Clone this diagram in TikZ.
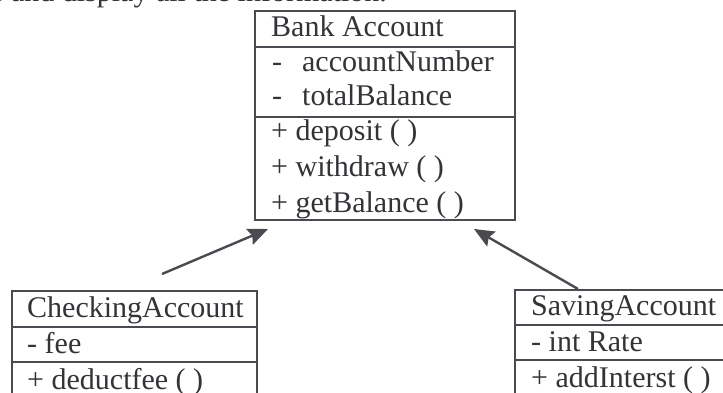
\documentclass[tikz,border=0pt]{standalone}
\usepackage{fontspec}
\setmainfont{Liberation Serif}
\usetikzlibrary{arrows.meta}
\definecolor{ink}{HTML}{333338}
\definecolor{rule}{HTML}{4A4A50}
\tikzset{
  txt/.style={anchor=base west, inner sep=0pt, text=ink, font=\fontsize{30}{36}\selectfont},
  boxline/.style={draw=rule, line width=1.3pt},
  inherit/.style={draw=rule, line width=2.4pt, -{Stealth[length=20pt,width=17pt,inset=3pt,fill=rule]}}
}
\begin{document}
\begin{tikzpicture}[x=1pt,y=-1pt]
\fill[white] (0,0) rectangle (723,393);
\clip (0,0) rectangle (723,393);
% partial heading line
\node[txt, anchor=base east] (head) at (387,2) {e and display all the information.};
% Bank Account
\draw[boxline] (255,11) rectangle (515,220);
\draw[boxline] (255,47) -- (515,47);
\draw[boxline] (255,117) -- (515,117);
\node[txt] (bname) at (271,37) {Bank Account};
\node[txt] (a1) at (272,72) {-\hspace{20pt}accountNumber};
\node[txt] (a2) at (272,106) {-\hspace{20pt}totalBalance};
\node[txt] (m1) at (271,141) {+ deposit ( )};
\node[txt] (m2) at (271,177) {+ withdraw ( )};
\node[txt] (m3) at (271,212) {+ getBalance ( )};
% CheckingAccount
\draw[boxline] (12,400) -- (12,291) -- (257,291) -- (257,400);
\draw[boxline] (12,327) -- (257,327);
\draw[boxline] (12,362) -- (257,362);
\node[txt] (cname) at (27,317) {CheckingAccount};
\node[txt] (c1) at (27,353) {- fee};
\node[txt] (c2) at (27,389) {+ deductfee ( )};
% SavingAccount
\draw[boxline] (515,400) -- (515,290) -- (740,290);
\draw[boxline] (515,325) -- (740,325);
\draw[boxline] (515,360) -- (740,360);
\node[txt] (sname) at (531,315) {SavingAccount};
\node[txt] (s1) at (531,351) {- int Rate};
\node[txt] (s2) at (531,387) {+ addInterst ( )};
% inheritance arrows
\coordinate (ltail) at (162,274);
\coordinate (ltip) at (268,229);
\coordinate (rtail) at (578,289);
\coordinate (rtip) at (474,229);
\draw[inherit] (ltail) -- (ltip);
\draw[inherit] (rtail) -- (rtip);
\end{tikzpicture}
\end{document}
